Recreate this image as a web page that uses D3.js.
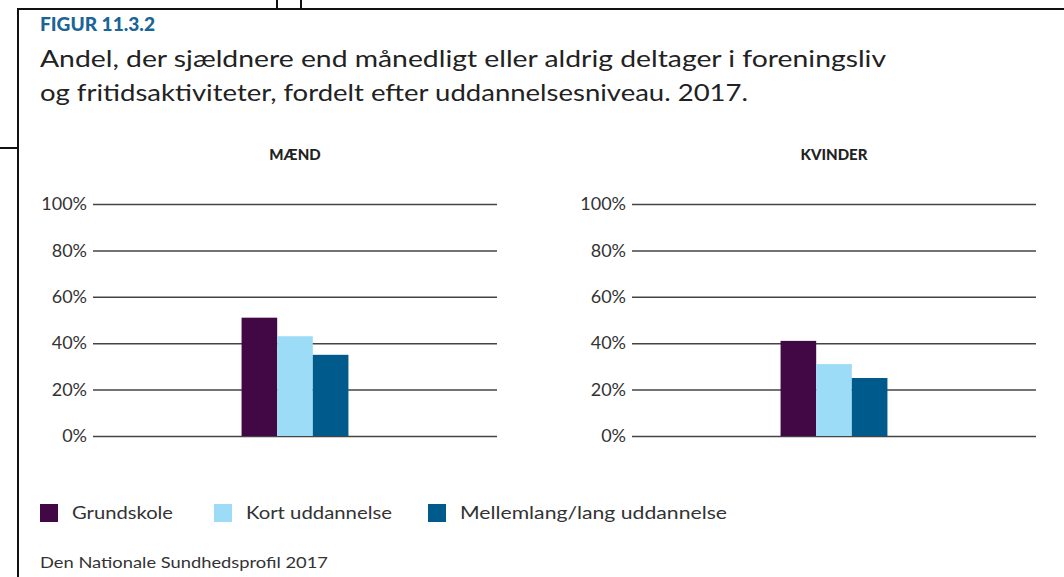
<!DOCTYPE html>
<html>
<head>
<meta charset="utf-8">
<script src="https://cdn.jsdelivr.net/npm/d3@7"></script>
<style>
  html, body { margin: 0; padding: 0; background: #fff; }
  svg { display: block; font-family: Lato, "Open Sans", sans-serif; }
</style>
</head>
<body>
<div id="chart"></div>
<script>
// data
var panels = ["MÆND", "KVINDER"];
var levels = ["Grundskole", "Kort uddannelse", "Mellemlang/lang uddannelse"];
var maend = [51, 43, 35];
var kvinder = [41, 31, 25];
var yTicks = [0, 20, 40, 60, 80, 100];
var colors = ["#420845", "#9ddcf7", "#005b8c"];

var width = 1064, height = 577;
var svg = d3.select("#chart").append("svg")
  .attr("width", width).attr("height", height);

// frame and the stray cut marks
var frame = svg.append("g").attr("stroke", "#111").attr("stroke-width", 2).attr("fill", "none");
frame.append("path").attr("d", "M18,577 V9 H1064");
frame.append("path").attr("d", "M277,0 V9 M301,0 V9");
frame.append("path").attr("d", "M0,148 H18");

svg.append("text").attr("x", 40).attr("y", 31)
  .attr("font-size", 18).attr("font-weight", 900).attr("fill", "#1a6496")
  .attr("textLength", 115).attr("lengthAdjust", "spacingAndGlyphs")
  .text("FIGUR 11.3.2");
svg.append("text").attr("x", 40).attr("y", 67)
  .attr("font-size", 23).attr("fill", "#222")
  .attr("textLength", 846).attr("lengthAdjust", "spacingAndGlyphs")
  .text("Andel, der sjældnere end månedligt eller aldrig deltager i foreningsliv");
svg.append("text").attr("x", 40).attr("y", 101)
  .attr("font-size", 23).attr("fill", "#222")
  .attr("textLength", 708).attr("lengthAdjust", "spacingAndGlyphs")
  .text("og fritidsaktiviteter, fordelt efter uddannelsesniveau. 2017.");

var y = d3.scaleLinear().domain([0, 100]).range([436, 204]);

function drawPanel(name, values, x0, x1) {
  var g = svg.append("g");
  var x = d3.scaleBand().domain([name]).range([x0, x1]).paddingInner(0).paddingOuter(1.39);
  var xs = d3.scaleBand().domain(levels).range([0, x.bandwidth()]);

  var axis = d3.axisLeft(y).tickValues(yTicks).tickSize(-(x1 - x0)).tickPadding(6)
    .tickFormat(function(d) { return d + "%"; });
  var ag = g.append("g").attr("transform", "translate(" + x0 + ",0)").call(axis);
  ag.select(".domain").remove();
  ag.selectAll(".tick line").attr("stroke", "#444").attr("stroke-width", 1.5);
  ag.selectAll(".tick text").attr("font-size", 18).attr("fill", "#333")
    .attr("font-family", "Lato, sans-serif");

  g.selectAll("rect.bar").data(values).enter().append("rect")
    .attr("class", "bar")
    .attr("x", function(d, i) { return x(name) + xs(levels[i]); })
    .attr("width", xs.bandwidth())
    .attr("y", function(d) { return y(d); })
    .attr("height", function(d) { return y(0) - y(d); })
    .attr("fill", function(d, i) { return colors[i]; });

  g.append("text").attr("x", x(name) + x.bandwidth() / 2).attr("y", 160)
    .attr("text-anchor", "middle").attr("font-size", 15).attr("font-weight", 900)
    .attr("fill", "#222").text(name);
}

drawPanel(panels[0], maend, 93, 497);
drawPanel(panels[1], kvinder, 632, 1036);

// legend
var legendX = [40, 214, 428];
var legendW = [101, 146, 267];
var lg = svg.append("g");
levels.forEach(function(l, i) {
  lg.append("rect").attr("x", legendX[i]).attr("y", 504).attr("width", 18).attr("height", 18)
    .attr("fill", colors[i]);
  lg.append("text").attr("x", legendX[i] + 32).attr("y", 519)
    .attr("font-size", 18).attr("fill", "#333")
    .attr("textLength", legendW[i]).attr("lengthAdjust", "spacingAndGlyphs")
    .text(l);
});

svg.append("text").attr("x", 40).attr("y", 568)
  .attr("font-size", 16).attr("fill", "#333")
  .attr("textLength", 288).attr("lengthAdjust", "spacingAndGlyphs")
  .text("Den Nationale Sundhedsprofil 2017");
</script>
</body>
</html>
